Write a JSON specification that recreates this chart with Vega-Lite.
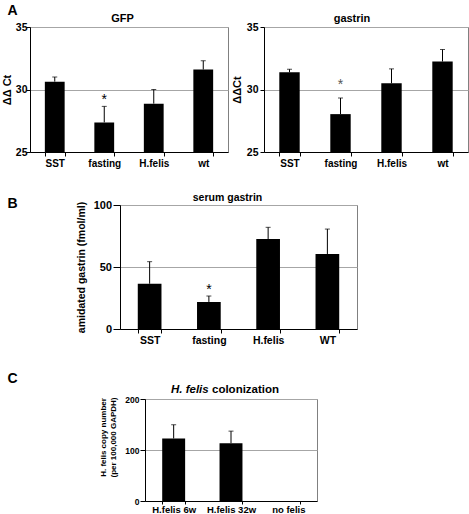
{
  "$schema": "https://vega.github.io/schema/vega-lite/v6.json",
  "background": "white",
  "padding": {"left": 0, "top": 4, "right": 0, "bottom": 0},
  "config": {
    "font": "Liberation Sans",
    "view": {"stroke": "#808080", "strokeWidth": 1},
    "axis": {"domainColor": "black", "tickColor": "black", "labelColor": "black", "titleColor": "black", "gridColor": "#a6a6a6", "labelFontWeight": "bold", "titleFontWeight": "bold", "labelFont": "Liberation Sans", "titleFont": "Liberation Sans"},
    "axisX": {"grid": false, "tickBand": "extent", "labelAngle": 0, "title": null, "tickSize": 4, "labelPadding": 2, "labelFontSize": 10},
    "axisY": {"grid": true, "tickSize": 4},
    "title": {"font": "Liberation Sans", "fontWeight": "bold", "fontSize": 11, "color": "black", "frame": "group"},
    "bar": {"color": "black"},
    "rule": {"color": "black", "strokeWidth": 1},
    "tick": {"color": "black"}
  },
  "datasets": {
    "gfp": [
      {"group": "SST", "value": 30.63, "err": 31.0},
      {"group": "fasting", "value": 27.37, "err": 28.65, "star": 29.38},
      {"group": "H.felis", "value": 28.87, "err": 30.0},
      {"group": "wt", "value": 31.6, "err": 32.3}
    ],
    "gastrin": [
      {"group": "SST", "value": 31.38, "err": 31.62},
      {"group": "fasting", "value": 28.03, "err": 29.32, "star": 30.6},
      {"group": "H.felis", "value": 30.5, "err": 31.65},
      {"group": "wt", "value": 32.24, "err": 33.2}
    ],
    "serum": [
      {"group": "SST", "value": 36.5, "err": 54.3},
      {"group": "fasting", "value": 21.8, "err": 26.6, "star": 33.9},
      {"group": "H.felis", "value": 72.6, "err": 82.0},
      {"group": "WT", "value": 60.5, "err": 80.6}
    ],
    "colon": [
      {"group": "H.felis 6w", "value": 122.6, "err": 149.5},
      {"group": "H.felis 32w", "value": 113.4, "err": 137.0},
      {"group": "no felis", "value": 0, "err": null}
    ]
  },
  "spacing": 0,
  "vconcat": [
    {
      "hconcat": [
        {
          "width": 29, "height": 164.8,
          "title": {"text": "A", "anchor": "start", "dx": 6.5, "fontSize": 14, "offset": 8.7},
          "data": {"values": []},
          "mark": {"type": "point", "opacity": 0},
          "encoding": {},
          "view": {"stroke": null, "fill": "white"}
        },
        {
          "width": 198, "height": 125,
          "title": {"text": "GFP", "offset": -1.5, "dx": -6.5},
          "data": {"name": "gfp"},
          "encoding": {"x": {"field": "group", "type": "nominal", "sort": null, "scale": {"paddingInner": 0.6, "paddingOuter": 0.3}}},
          "layer": [
            {"mark": "bar", "encoding": {"y": {"field": "value", "type": "quantitative", "scale": {"domain": [25, 35], "zero": false, "nice": false}, "axis": {"values": [25, 30, 35], "title": "ΔΔ Ct", "labelFontSize": 10.5, "titleFontSize": 11, "tickSize": 4, "labelPadding": -1, "titlePadding": 3}}, "y2": {"datum": 25}}},
            {"mark": "rule", "encoding": {"y": {"field": "value", "type": "quantitative"}, "y2": {"field": "err"}}},
            {"mark": {"type": "tick", "size": 5, "thickness": 1}, "encoding": {"y": {"field": "err", "type": "quantitative"}}},
            {"mark": {"type": "text", "fontSize": 14, "dy": 3, "baseline": "middle"}, "encoding": {"y": {"field": "star", "type": "quantitative"}, "text": {"value": "*"}}}
          ]
        },
        {
          "width": 36, "height": 125,
          "data": {"values": []},
          "mark": {"type": "point", "opacity": 0},
          "encoding": {},
          "view": {"stroke": null}
        },
        {
          "width": 204, "height": 125,
          "title": {"text": "gastrin", "offset": -2, "dx": -14},
          "data": {"name": "gastrin"},
          "encoding": {"x": {"field": "group", "type": "nominal", "sort": null, "scale": {"paddingInner": 0.6, "paddingOuter": 0.3}}},
          "layer": [
            {"mark": "bar", "encoding": {"y": {"field": "value", "type": "quantitative", "scale": {"domain": [25, 35], "zero": false, "nice": false}, "axis": {"values": [25, 30, 35], "title": "ΔΔCt", "labelFontSize": 10.5, "titleFontSize": 11, "tickSize": 4, "labelPadding": 2, "titlePadding": 4}}, "y2": {"datum": 25}}},
            {"mark": "rule", "encoding": {"y": {"field": "value", "type": "quantitative"}, "y2": {"field": "err"}}},
            {"mark": {"type": "tick", "size": 5, "thickness": 1}, "encoding": {"y": {"field": "err", "type": "quantitative"}}},
            {"mark": {"type": "text", "fontSize": 14, "dy": 3, "baseline": "middle", "color": "#555555"}, "encoding": {"y": {"field": "star", "type": "quantitative"}, "text": {"value": "*"}}}
          ]
        }
      ],
      "spacing": 0,
      "bounds": "flush"
    },
    {
      "hconcat": [
        {
          "width": 119, "height": 167,
          "title": {"text": "B", "anchor": "start", "dx": 6.5, "fontSize": 14, "offset": -6},
          "data": {"values": []},
          "mark": {"type": "point", "opacity": 0},
          "encoding": {},
          "view": {"stroke": null, "fill": "white"}
        },
        {
          "width": 237, "height": 124,
          "title": {"text": "serum gastrin", "offset": -4.5, "dx": -11, "fontSize": 10.5},
          "data": {"name": "serum"},
          "encoding": {"x": {"field": "group", "type": "nominal", "sort": null, "scale": {"paddingInner": 0.6, "paddingOuter": 0.3}, "axis": {"labelFontSize": 10.5}}},
          "layer": [
            {"mark": "bar", "encoding": {"y": {"field": "value", "type": "quantitative", "scale": {"domain": [0, 100], "nice": false}, "axis": {"values": [0, 50, 100], "title": "amidated gastrin (fmol/ml)", "labelFontSize": 11, "titleFontSize": 10.5, "tickSize": 7, "labelPadding": 1.5, "titlePadding": 7}}}},
            {"mark": "rule", "encoding": {"y": {"field": "value", "type": "quantitative"}, "y2": {"field": "err"}}},
            {"mark": {"type": "tick", "size": 5, "thickness": 1}, "encoding": {"y": {"field": "err", "type": "quantitative"}}},
            {"mark": {"type": "text", "fontSize": 14, "dy": 3, "baseline": "middle"}, "encoding": {"y": {"field": "star", "type": "quantitative"}, "text": {"value": "*"}}}
          ]
        }
      ],
      "spacing": 0,
      "bounds": "flush"
    },
    {
      "title": {"text": "H. felis", "fontStyle": "italic", "anchor": "start", "frame": "group", "dx": 170, "offset": -23, "fontSize": 11.5},
      "hconcat": [
        {
          "width": 144, "height": 102,
          "title": {"text": "C", "anchor": "start", "dx": 6.5, "fontSize": 14, "offset": 13},
          "data": {"values": []},
          "mark": {"type": "point", "opacity": 0},
          "encoding": {},
          "view": {"stroke": null, "fill": "white"}
        },
        {
          "width": 172, "height": 102,
          "title": {"text": "colonization", "anchor": "start", "offset": 0, "dx": 67, "fontSize": 11.5},
          "data": {"name": "colon"},
          "encoding": {"x": {"field": "group", "type": "nominal", "sort": null, "scale": {"paddingInner": 0.6, "paddingOuter": 0.3}, "axis": {"labelFontSize": 9.5, "tickSize": 3, "labelPadding": 0}}},
          "layer": [
            {"mark": "bar", "encoding": {"y": {"field": "value", "type": "quantitative", "scale": {"domain": [0, 200], "nice": false}, "axis": {"values": [0, 50, 100, 150, 200], "title": ["H. felis copy number", "(per 100,000 GAPDH)"], "labelFontSize": 8.5, "titleFontSize": 8, "titleLineHeight": 10.5, "tickSize": 5, "labelPadding": 1, "titlePadding": 7, "titleY": 38}}}},
            {"mark": "rule", "encoding": {"y": {"field": "value", "type": "quantitative"}, "y2": {"field": "err"}}},
            {"mark": {"type": "tick", "size": 5, "thickness": 1}, "encoding": {"y": {"field": "err", "type": "quantitative"}}}
          ]
        }
      ],
      "spacing": 0,
      "bounds": "flush"
    }
  ]
}
